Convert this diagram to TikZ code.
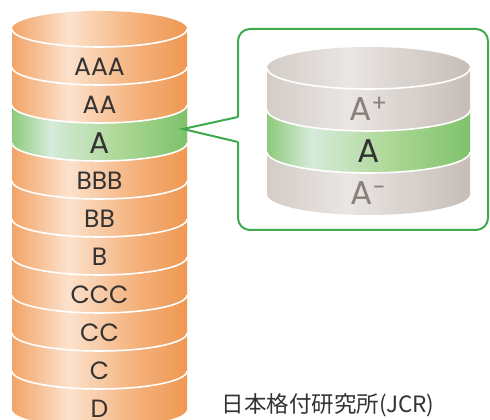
\documentclass[tikz,border=0pt]{standalone}
\usepackage{fontspec}
\setmainfont{Poppins}
\newfontfamily\jpfont{Noto Sans CJK JP}

\definecolor{orangeL}{HTML}{F2A467}
\definecolor{orangeH}{HTML}{FCE2CD}
\definecolor{orangeM}{HTML}{F4B27C}
\definecolor{orangeR}{HTML}{EF9852}
\definecolor{greenL}{HTML}{8ECA7B}
\definecolor{greenH}{HTML}{D6EBDA}
\definecolor{greenM}{HTML}{AED897}
\definecolor{greenR}{HTML}{7EC26B}
\definecolor{grayL}{HTML}{D3CCC7}
\definecolor{grayH}{HTML}{EAE6E3}
\definecolor{grayR}{HTML}{C6BDB7}
\definecolor{jcrgreen}{HTML}{3FAA4B}
\definecolor{textdark}{HTML}{333333}
\definecolor{textgray}{HTML}{8A807B}

\pgfdeclarehorizontalshading{orangeband}{100bp}{color(0bp)=(orangeL); color(25bp)=(orangeL); color(41bp)=(orangeH); color(60bp)=(orangeM); color(75bp)=(orangeR); color(100bp)=(orangeR)}
\pgfdeclarehorizontalshading{greenband}{100bp}{color(0bp)=(greenL); color(25bp)=(greenL); color(36bp)=(greenH); color(55bp)=(greenM); color(75bp)=(greenR); color(100bp)=(greenR)}
\pgfdeclarehorizontalshading{grayband}{100bp}{color(0bp)=(grayL); color(25bp)=(grayL); color(45bp)=(grayH); color(75bp)=(grayR); color(100bp)=(grayR)}

\def \ratinglist {AAA/0/rating,AA/1/rating,A/2/ratingA,BBB/3/rating,BB/4/rating,B/5/rating,CCC/6/rating,CC/7/rating,C/8/rating,D/9/rating}
\def \notchlist {A\textsuperscript{+}/0/notch,A/1/notchA,A\textsuperscript{-}/2/notch}

\begin{document}
\begin{tikzpicture}
   [x=1pt, y=1pt,
   rating/.style={draw=none,fill=none,text=textdark,font=\fontsize{25}{25}\selectfont},
   ratingA/.style={rating,font=\fontsize{30}{30}\selectfont},
   notch/.style={draw=none,fill=none,text=textgray,font=\fontsize{33}{33}\selectfont},
   notchA/.style={notch,text=textdark},
   sep/.style={draw=white, line width=1.6pt},
   callout/.style={draw=jcrgreen, line width=2pt},
   source/.style={draw=none,fill=none,text=textdark,font=\jpfont\fontsize{22.5}{22.5}\selectfont}]
\useasboundingbox (0,0) rectangle (490,420);
\clip (0,0) rectangle (490,420);

% rating scale
\shade[shading=orangeband] (12,391) -- (12,11) arc[start angle=180,end angle=360,x radius=87.5pt,y radius=18pt] -- (187,391) -- cycle;
\shade[shading=greenband] (12,315) -- (12,277) arc[start angle=180,end angle=360,x radius=87.5pt,y radius=18pt]
   -- (187,315) arc[start angle=0,end angle=-180,x radius=87.5pt,y radius=18pt] -- cycle;
\shade[shading=orangeband] (99.5,391) ellipse[x radius=87.5pt,y radius=18pt];
\foreach \k in {0,...,9}
   \draw[sep] (12,391-38*\k) arc[start angle=180,end angle=360,x radius=87.5pt,y radius=18pt];

\foreach \grade / \k / \sty in \ratinglist
   \node[\sty] (g\k) at (99.5,353-38*\k) {\grade};

% notches of A
\shade[shading=grayband] (267,352) -- (267,226) arc[start angle=180,end angle=360,x radius=101.5pt,y radius=21pt] -- (470,352) -- cycle;
\shade[shading=greenband] (267,310) -- (267,268) arc[start angle=180,end angle=360,x radius=101.5pt,y radius=21pt]
   -- (470,310) arc[start angle=0,end angle=-180,x radius=101.5pt,y radius=21pt] -- cycle;
\shade[shading=grayband] (368.5,352) ellipse[x radius=101.5pt,y radius=21pt];
\foreach \k in {0,1,2}
   \draw[sep] (267,352-42*\k) arc[start angle=180,end angle=360,x radius=101.5pt,y radius=21pt];

\foreach \grade / \k / \sty in \notchlist
   \node[\sty] (n\k) at (368.5,311-42*\k) {\grade};

% callout
\coordinate (tip) at (183,291);
\coordinate (gapT) at (238,303);
\coordinate (gapB) at (238,278);
\draw[callout,rounded corners=12pt] (gapB) -- (238,190) -- (488,190) -- (488,391) -- (238,391) -- (gapT);
\draw[callout] (gapT) -- (tip) -- (gapB);

\node[source,anchor=west] (src) at (218,15) {日本格付研究所(JCR)};
\end{tikzpicture}
\end{document}
